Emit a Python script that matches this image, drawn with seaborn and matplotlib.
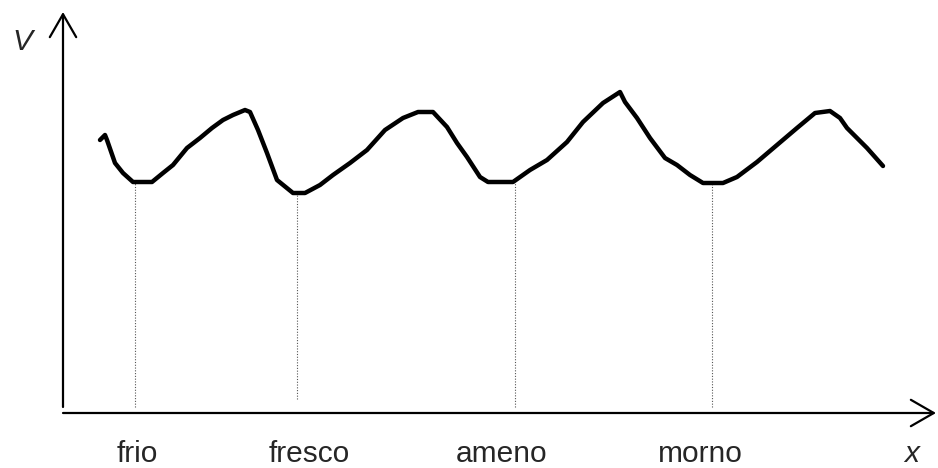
import matplotlib
matplotlib.use("Agg")
import matplotlib.pyplot as plt
import seaborn as sns
import pandas as pd

# curve of V against x (origin at the axes' corner)
curve_x = [37, 42, 44, 52, 60, 70, 89, 100, 110, 124, 137, 149, 160, 170, 182, 187, 195, 204,
           214, 230, 242, 257, 270, 287, 304, 322, 340, 355, 370, 384, 394, 404, 417, 425,
           450, 467, 484, 504, 520, 540, 557, 562, 574, 587, 602, 614, 627, 640, 660, 674,
           694, 714, 734, 752, 767, 777, 784, 804, 820]
curve_v = [273, 278, 273, 250, 240, 231, 231, 240, 248, 265, 275, 285, 293, 298, 303, 301,
           283, 260, 233, 220, 220, 228, 238, 250, 263, 283, 295, 301, 301, 286, 270, 256,
           236, 231, 231, 243, 253, 271, 291, 310, 321, 311, 295, 275, 255, 248, 238, 230,
           230, 236, 251, 268, 285, 300, 302, 295, 285, 265, 247]

categories = ["frio", "fresco", "ameno", "morno"]
cat_x = [72, 234, 452, 649]
cat_top = [231, 218, 231, 230]
cat_bottom = [6, 14, 6, 6]
label_x = [74, 246, 439, 637]

df = pd.DataFrame({"x": curve_x, "V": curve_v})

sns.set_style("white")
plt.rcParams["font.family"] = ["Liberation Sans", "DejaVu Sans"]

fig = plt.figure(figsize=(9.38, 4.68), dpi=100)
ax = fig.add_axes([0, 0, 1, 1])
ax.set_xlim(-63, 875)
ax.set_ylim(-55, 413)
ax.axis("off")

# dotted guides from each minimum down to the x axis
ax.vlines(cat_x, cat_bottom, cat_top, colors="#555555", linestyles=(0, (1, 1.5)), linewidth=0.8)

sns.lineplot(data=df, x="x", y="V", sort=False, color="black", linewidth=3.2, ax=ax,
             solid_joinstyle="round", solid_capstyle="round")

# axes with open arrow heads
arrow = dict(arrowstyle="->,head_length=1.65,head_width=0.95", color="black", lw=1.6,
             shrinkA=0, shrinkB=0)
ax.annotate("", xy=(0, 401), xytext=(0, 6), arrowprops=arrow)
ax.annotate("", xy=(873, 0), xytext=(0, 0), arrowprops=arrow)

for name, xc in zip(categories, label_x):
    ax.text(xc, -49, name, ha="center", va="baseline", fontsize=21.5)
ax.text(849, -49, "x", ha="center", va="baseline", fontsize=21.5, style="italic")
ax.text(-41, 363, "V", ha="center", va="baseline", fontsize=21.5, style="italic")

fig.savefig("out.png", dpi=100)
